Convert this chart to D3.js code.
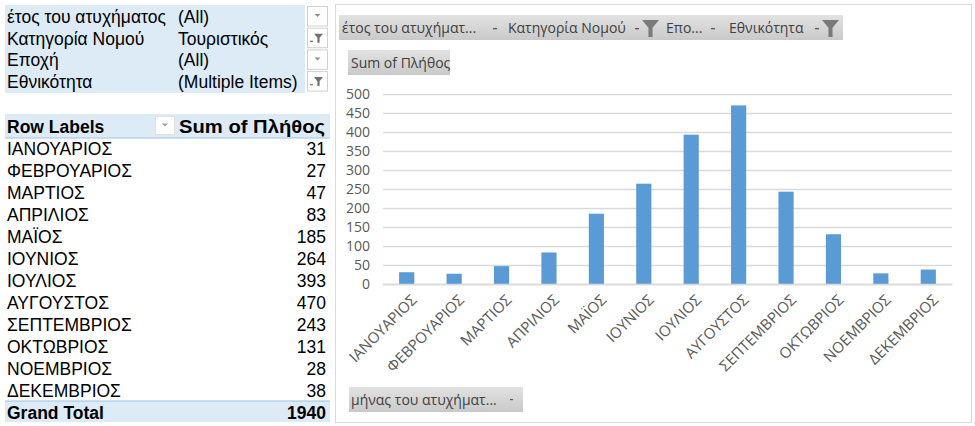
<!DOCTYPE html>
<html><head><meta charset="utf-8">
<script src="https://cdn.jsdelivr.net/npm/d3@7"></script>
<style>body{margin:0;background:#fff}svg{display:block}</style>
</head><body>
<script>
const months = ["ΙΑΝΟΥΑΡΙΟΣ","ΦΕΒΡΟΥΑΡΙΟΣ","ΜΑΡΤΙΟΣ","ΑΠΡΙΛΙΟΣ","ΜΑΪΟΣ","ΙΟΥΝΙΟΣ","ΙΟΥΛΙΟΣ","ΑΥΓΟΥΣΤΟΣ","ΣΕΠΤΕΜΒΡΙΟΣ","ΟΚΤΩΒΡΙΟΣ","ΝΟΕΜΒΡΙΟΣ","ΔΕΚΕΜΒΡΙΟΣ"];
const values = [31,27,47,83,185,264,393,470,243,131,28,38];
const grandTotal = 1940;
const filterNames = ["έτος του ατυχήματος","Κατηγορία Νομού","Εποχή","Εθνικότητα"];
const filterValues = ["(All)","Τουριστικός","(All)","(Multiple Items)"];
const filterActive = [false,true,false,true];
const yTicks = [0,50,100,150,200,250,300,350,400,450,500];
const chartFilterLabels = ["έτος του ατυχήματ...","Κατηγορία Νομού","Επο...","Εθνικότητα"];
const valueFieldLabel = "Sum of Πλήθος";
const axisFieldLabel = "μήνας του ατυχήματ...";

const W = 975, H = 426;
const svg = d3.select("body").append("svg").attr("width", W).attr("height", H);
const tFont = "'Liberation Sans', Arial, sans-serif";
const cFont = "'Open Sans', 'Noto Sans', sans-serif";
const blue = "#DDEBF7";
const tSize = 17.5;
const cSize = 14;

function funnel(g, x, y, s, col) {
  g.append("path")
    .attr("d", `M${x},${y} h${s} l${-s*0.38},${s*0.45} v${s*0.55} h${-s*0.24} v${-s*0.55} Z`)
    .attr("fill", col);
}
function smallArrow(g, x, y, col) {
  g.append("path").attr("d", `M${x-3},${y-1.5} h6 l-3,3 Z`).attr("fill", col);
}

// ---------- Left: filter area ----------
const L = svg.append("g");
L.append("rect").attr("x", 5).attr("y", 5).attr("width", 300).attr("height", 88).attr("fill", blue);
filterNames.forEach((n, i) => {
  const base = 23 + i * 21.7;
  L.append("text").attr("x", 7).attr("y", base).text(n)
    .attr("font-family", tFont).attr("font-size", tSize).attr("fill", "#000");
  L.append("text").attr("x", 178).attr("y", base).text(filterValues[i])
    .attr("font-family", tFont).attr("font-size", tSize).attr("fill", "#000");
  const by = 6 + i * 21.7;
  L.append("rect").attr("x", 307.5).attr("y", by + 0.5).attr("width", 20).attr("height", 19.5)
    .attr("fill", "#fff").attr("stroke", "#d0d0d0");
  if (filterActive[i]) {
    funnel(L, 314, by + 6, 9, "#707070");
    L.append("rect").attr("x", 310).attr("y", by + 13).attr("width", 3).attr("height", 1.2).attr("fill", "#707070");
  } else {
    smallArrow(L, 317.5, by + 9.5, "#909090");
  }
});

// ---------- Left: pivot table ----------
L.append("rect").attr("x", 5).attr("y", 114).attr("width", 325).attr("height", 24).attr("fill", blue);
L.append("line").attr("x1", 5).attr("x2", 330).attr("y1", 138).attr("y2", 138).attr("stroke", "#9BC2E6");
L.append("text").attr("x", 7).attr("y", 133).text("Row Labels")
  .attr("font-family", tFont).attr("font-size", tSize).attr("font-weight", "bold");
L.append("rect").attr("x", 155.5).attr("y", 116.5).attr("width", 19).attr("height", 18).attr("fill", "#fff").attr("stroke", "#e0e0e0");
smallArrow(L, 165, 125, "#a0a0a0");
L.append("text").attr("x", 179).attr("y", 133).text(valueFieldLabel)
  .attr("textLength", 146).attr("lengthAdjust", "spacingAndGlyphs")
  .attr("font-family", tFont).attr("font-size", 18).attr("font-weight", "bold");

const rowY = d3.scaleLinear().domain([0, 12]).range([155, 155 + 12 * 22]);
months.forEach((m, i) => {
  L.append("text").attr("x", 7).attr("y", rowY(i)).text(m)
    .attr("font-family", tFont).attr("font-size", tSize);
  L.append("text").attr("x", 326).attr("y", rowY(i)).attr("text-anchor", "end").text(values[i])
    .attr("font-family", tFont).attr("font-size", tSize);
});
L.append("rect").attr("x", 5).attr("y", 401).attr("width", 325).attr("height", 21).attr("fill", blue);
L.append("line").attr("x1", 5).attr("x2", 330).attr("y1", 401).attr("y2", 401).attr("stroke", "#9BC2E6");
L.append("text").attr("x", 7).attr("y", rowY(12)).text("Grand Total")
  .attr("font-family", tFont).attr("font-size", tSize).attr("font-weight", "bold");
L.append("text").attr("x", 326).attr("y", rowY(12)).attr("text-anchor", "end").text(grandTotal)
  .attr("font-family", tFont).attr("font-size", tSize).attr("font-weight", "bold");

// ---------- Right: chart ----------
const C = svg.append("g");
C.append("rect").attr("x", 335.5).attr("y", 4.5).attr("width", 636).attr("height", 418)
  .attr("fill", "#fff").attr("stroke", "#d9d9d9");

const grad = svg.append("defs").append("linearGradient").attr("id", "gb").attr("x1", 0).attr("x2", 0).attr("y1", 0).attr("y2", 1);
grad.append("stop").attr("offset", 0).attr("stop-color", "#e2e2e2");
grad.append("stop").attr("offset", 1).attr("stop-color", "#c9c9c9");
C.append("rect").attr("x", 339).attr("y", 15).attr("width", 504).attr("height", 25).attr("fill", "url(#gb)");
const fx = [342, 508, 666, 729];
const dashX = [495, 637, 713, 817];
chartFilterLabels.forEach((t, i) => {
  C.append("text").attr("x", fx[i]).attr("y", 33).text(t)
    .attr("font-family", cFont).attr("font-size", cSize).attr("fill", "#404040");
  C.append("rect").attr("x", dashX[i] - 2).attr("y", 28).attr("width", 4).attr("height", 1.3).attr("fill", "#555");
  if (filterActive[i]) funnel(C, dashX[i] + 5, 20, 17, "#7a7a7a");
});

C.append("rect").attr("x", 348).attr("y", 50).attr("width", 102).attr("height", 25).attr("fill", "url(#gb)");
C.append("text").attr("x", 351).attr("y", 68).text(valueFieldLabel)
  .attr("font-family", cFont).attr("font-size", cSize).attr("fill", "#404040");

C.append("rect").attr("x", 349).attr("y", 387).attr("width", 174).attr("height", 25).attr("fill", "url(#gb)");
C.append("text").attr("x", 351).attr("y", 405).text(axisFieldLabel)
  .attr("font-family", cFont).attr("font-size", cSize).attr("fill", "#404040");
C.append("rect").attr("x", 510).attr("y", 399).attr("width", 3).attr("height", 1.2).attr("fill", "#555");

const x = d3.scaleBand().domain(months).range([383, 952]).paddingInner(0.68).paddingOuter(0.34);
const y = d3.scaleLinear().domain([0, 500]).range([284, 94]);

const yAxis = d3.axisLeft(y).tickValues(yTicks).tickSize(-(952 - 383)).tickPadding(13);
const gy = C.append("g").attr("transform", "translate(383,0)").call(yAxis);
gy.select(".domain").remove();
gy.selectAll(".tick line").attr("stroke", "#d9d9d9").attr("stroke-width", 1.3);
gy.selectAll(".tick text").attr("font-family", cFont).attr("font-size", 14).attr("fill", "#595959");

C.selectAll("rect.bar").data(values).join("rect").attr("class", "bar")
  .attr("x", (d, i) => x(months[i]))
  .attr("width", x.bandwidth())
  .attr("y", d => y(d))
  .attr("height", d => y(0) - y(d))
  .attr("fill", "#5B9BD5");

const xAxis = d3.axisBottom(x).tickSize(0).tickPadding(0);
const gx = C.append("g").attr("transform", "translate(0,284)").call(xAxis);
gx.select(".domain").attr("stroke", "#d9d9d9").attr("stroke-width", 1.3);
gx.selectAll(".tick text")
  .attr("font-family", cFont).attr("font-size", 15).attr("fill", "#595959")
  .attr("text-anchor", "end").attr("dy", 0)
  .attr("transform", "translate(11,17) rotate(-45)");
</script>
</body></html>
